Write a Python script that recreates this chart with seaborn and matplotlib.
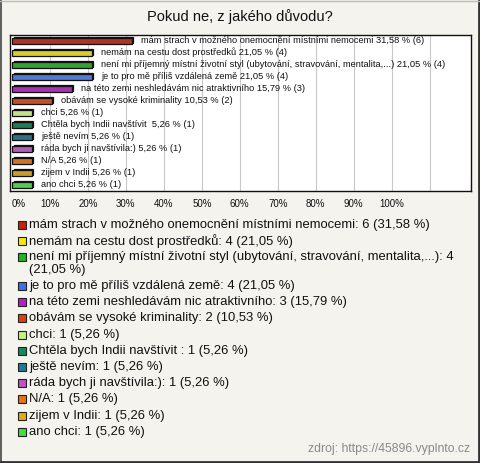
import matplotlib
matplotlib.use("Agg")
import matplotlib.pyplot as plt
import matplotlib.transforms as mtransforms
from matplotlib.patches import Rectangle
from matplotlib.lines import Line2D
import seaborn as sns
import pandas as pd

title = "Pokud ne, z jakého důvodu?"
categories = [
    "mám strach v možného onemocnění místními nemocemi",
    "nemám na cestu dost prostředků",
    "není mi příjemný místní životní styl (ubytování, stravování, mentalita,...)",
    "je to pro mě příliš vzdálená země",
    "na této zemi neshledávám nic atraktivního",
    "obávám se vysoké kriminality",
    "chci",
    "Chtěla bych Indii navštívit ",
    "ještě nevím",
    "ráda bych ji navštívila:)",
    "N/A",
    "zijem v Indii",
    "ano chci",
]
legend_labels = [
    "mám strach v možného onemocnění místními nemocemi: 6 (31,58 %)",
    "nemám na cestu dost prostředků: 4 (21,05 %)",
    "není mi příjemný místní životní styl (ubytování, stravování, mentalita,...): 4\n(21,05 %)",
    "je to pro mě příliš vzdálená země: 4 (21,05 %)",
    "na této zemi neshledávám nic atraktivního: 3 (15,79 %)",
    "obávám se vysoké kriminality: 2 (10,53 %)",
    "chci: 1 (5,26 %)",
    "Chtěla bych Indii navštívit : 1 (5,26 %)",
    "ještě nevím: 1 (5,26 %)",
    "ráda bych ji navštívila:): 1 (5,26 %)",
    "N/A: 1 (5,26 %)",
    "zijem v Indii: 1 (5,26 %)",
    "ano chci: 1 (5,26 %)",
]
counts = [6, 4, 4, 4, 3, 2, 1, 1, 1, 1, 1, 1, 1]
percents = [31.58, 21.05, 21.05, 21.05, 15.79, 10.53, 5.26, 5.26, 5.26, 5.26, 5.26, 5.26, 5.26]
colors = ["#c8200e", "#f5e80a", "#1fb51f", "#3f6fe8", "#b81ec8", "#e0400e",
          "#c4f27a", "#138a5c", "#1f7a96", "#bf52c4", "#e87410", "#e2ac10", "#3fe03a"]
xticks = [0, 10, 20, 30, 40, 50, 60, 70, 80, 90, 100]
xtick_labels = ["0%", "10%", "20%", "30%", "40%", "50%", "60%", "70%", "80%", "90%", "100%"]
source = "zdroj: https://45896.vyplnto.cz"

sns.set_theme(style="white")
plt.rcParams["font.family"] = ["Liberation Sans", "DejaVu Sans"]

W, H = 480, 463
fig = plt.figure(figsize=(W / 100, H / 100), dpi=100)
bg = "#f4f3ed"
fig.patch.set_facecolor(bg)

ax = fig.add_axes([10 / W, 1 - 191 / H, 461 / W, 156 / H])
ax.set_facecolor("white")

df = pd.DataFrame({"cat": categories, "pct": percents})
sns.barplot(data=df, x="pct", y="cat", hue="cat", palette=colors, legend=False,
            orient="h", width=0.5, edgecolor="#111111", linewidth=0.9, ax=ax,
            zorder=3)

# pseudo-3D depth: copy of each bar slightly offset behind it
for p, c in zip(list(ax.patches), colors):
    off = mtransforms.ScaledTranslation(1.5 / 100, 1.5 / 100, fig.dpi_scale_trans)
    sh = Rectangle(p.get_xy(), p.get_width(), p.get_height(),
                   facecolor=c, edgecolor="#111111", linewidth=0.9,
                   transform=ax.transData + off, zorder=2.5)
    ax.add_patch(sh)

ax.set_xlim(-0.53, 120.9)
ax.set_ylim(12.5, -0.5)
ax.set_xlabel("")
ax.set_ylabel("")
ax.set_yticks([])
for g in list(range(10, 120, 10)):
    ax.axvline(g, color="#c8c8c8", linewidth=0.8, zorder=1)
ax.set_xticks(xticks)
ax.set_xticklabels(xtick_labels, fontsize=7)
ax.tick_params(axis="x", length=0, pad=6, colors="#111111")
ax.get_xticklabels()[0].set_horizontalalignment("left")
for s in ax.spines.values():
    s.set_visible(True)
    s.set_color("#111111")
    s.set_linewidth(1.0)

for i, (cat, pct, n) in enumerate(zip(categories, percents, counts)):
    pct_txt = f"{pct:.2f}".replace(".", ",")
    ax.annotate(f"{cat} {pct_txt} % ({n})", xy=(pct, i),
                xytext=(6.5, 0.5), textcoords="offset points",
                ha="left", va="center", fontsize=6.7, color="#111111", zorder=4)

fig.text(0.5, 1 - 17 / H, title, ha="center", va="center", fontsize=10.5,
         color="#111111")

# legend
y = 225.0
for lab, c in zip(legend_labels, colors):
    fig.patches.append(Rectangle((18 / W, 1 - (y + 4) / H), 8 / W, 8 / H,
                                 transform=fig.transFigure, facecolor=c,
                                 edgecolor="#222222", linewidth=0.8))
    lines = lab.split("\n")
    for k, ln in enumerate(lines):
        fig.text(29 / W, 1 - (y + k * 12.5) / H, ln, ha="left", va="center",
                 fontsize=9.4, color="#111111")
    y += 16.2 + 12.5 * (len(lines) - 1)

fig.text(470 / W, 1 - 449 / H, source, ha="right", va="center", fontsize=8.8,
         color="#8a8a8a")

# outer frame
fig.lines.append(Line2D([0.5 / W, 0.5 / W], [0, 1], transform=fig.transFigure, color="#444444", linewidth=1.2))
fig.lines.append(Line2D([0, 1], [1.2 / H, 1.2 / H], transform=fig.transFigure, color="#333333", linewidth=2))
fig.lines.append(Line2D([1 - 1.5 / W, 1 - 1.5 / W], [0, 1], transform=fig.transFigure, color="#333333", linewidth=2))
fig.lines.append(Line2D([0, 1], [1 - 0.5 / H, 1 - 0.5 / H], transform=fig.transFigure, color="#bbbbbb", linewidth=1))

fig.savefig("out.png", dpi=100, facecolor=bg)
